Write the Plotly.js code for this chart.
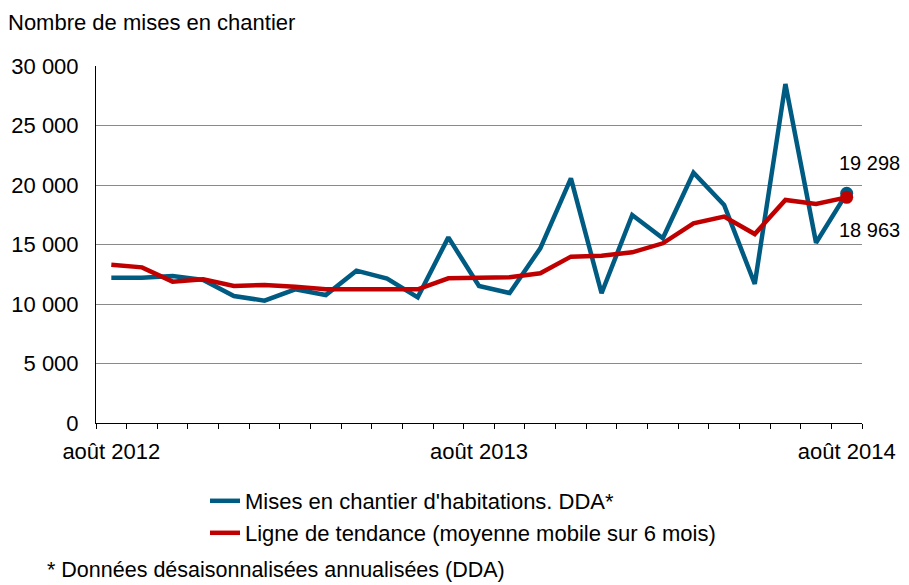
<!DOCTYPE html>
<html>
<head>
<meta charset="utf-8">
<script src="https://cdn.plot.ly/plotly-3.0.1.min.js"></script>
<style>html,body{margin:0;padding:0;background:#fff;}#chart{width:909px;height:585px;}</style>
</head>
<body>
<div id="chart"></div>
<script>
var months = ["août 2012","sept. 2012","oct. 2012","nov. 2012","déc. 2012","janv. 2013","févr. 2013","mars 2013","avr. 2013","mai 2013","juin 2013","juil. 2013",
              "août 2013","sept. 2013","oct. 2013","nov. 2013","déc. 2013","janv. 2014","févr. 2014","mars 2014","avr. 2014","mai 2014","juin 2014","juil. 2014","août 2014"];
var misesEnChantier = [12210,12210,12350,12020,10670,10280,11230,10750,12800,12130,10560,15600,
                       11510,10920,14680,20560,10900,17480,15520,21030,18320,11680,28490,15150,19298];
var tendance = [13300,13080,11880,12070,11510,11600,11460,11230,11230,11230,11230,12160,
                12240,12240,12580,13980,14060,14340,15100,16780,17340,15880,18740,18400,18963];
var tickLabels = ["août 2012","août 2013","août 2014"];
var yTicks = [0,5000,10000,15000,20000,25000,30000];

var blue = "#005b82", red = "#c00000";
var n = months.length;
function fmt(v){ return String(v).replace(/\B(?=(\d{3})+(?!\d))/g, " "); }
var tickText = months.map(function(m){ return tickLabels.indexOf(m) >= 0 ? m : ""; });

var font = {family: "Liberation Sans, Arial, sans-serif", size: 22, color: "#000"};
var labelFont = {family: "Liberation Sans, Arial, sans-serif", size: 20, color: "#000"};
var noteFont = {family: "Liberation Sans, Arial, sans-serif", size: 21.5, color: "#000"};

var traces = [
  {x: months, y: misesEnChantier, type: "scatter", mode: "lines", name: "Mises en chantier d'habitations. DDA*",
   line: {color: blue, width: 4.5}, legend: "legend"},
  {x: [months[n-1]], y: [misesEnChantier[n-1]], type: "scatter", mode: "markers", showlegend: false,
   marker: {color: blue, size: 13}},
  {x: months, y: tendance, type: "scatter", mode: "lines", name: "Ligne de tendance (moyenne mobile sur 6 mois)",
   line: {color: red, width: 4.5}, legend: "legend2"},
  {x: [months[n-1]], y: [tendance[n-1]], type: "scatter", mode: "markers", showlegend: false,
   marker: {color: red, size: 13}}
];

var plotW = 909 - 96 - 47, plotH = 585 - 66 - 162;

var layout = {
  width: 909, height: 585,
  margin: {l: 96, r: 47, t: 66, b: 162, autoexpand: false},
  paper_bgcolor: "#fff", plot_bgcolor: "#fff",
  font: font,
  showlegend: true,
  title: {text: "Nombre de mises en chantier", x: 8/909, xanchor: "left", xref: "container",
          y: 1 - 22/585, yanchor: "middle", yref: "container", font: font, automargin: false},
  xaxis: {type: "category", range: [-0.5, n - 0.5], tickmode: "array", tickvals: months, ticktext: tickText,
          tickson: "boundaries", ticks: "outside", ticklen: 5, tickcolor: "#000", tickwidth: 1,
          showline: true, linecolor: "#000", linewidth: 1, showgrid: false, zeroline: false,
          tickfont: font, tickangle: 0, automargin: false, ticklabelstandoff: 9},
  yaxis: {range: [0, 30000], tickmode: "array", tickvals: yTicks, ticktext: yTicks.map(fmt),
          showgrid: true, gridcolor: "#8a8a8a", gridwidth: 1, showline: true, linecolor: "#000", linewidth: 1,
          zeroline: false, ticks: "", ticklen: 0, tickfont: font, automargin: false, ticklabelstandoff: 12},
  legend: {x: 205/909, xref: "container", xanchor: "left", y: 1 - 480/585, yref: "container", yanchor: "top",
           font: font, bgcolor: "rgba(0,0,0,0)", itemwidth: 30},
  legend2: {x: 205/909, xref: "container", xanchor: "left", y: 1 - 512/585, yref: "container", yanchor: "top",
            font: font, bgcolor: "rgba(0,0,0,0)", itemwidth: 30},
  annotations: [
    {x: months[n-1], y: misesEnChantier[n-1], xref: "x", yref: "y", text: fmt(misesEnChantier[n-1]),
     showarrow: false, xanchor: "left", xshift: -10, yshift: 30, font: labelFont},
    {x: months[n-1], y: tendance[n-1], xref: "x", yref: "y", text: fmt(tendance[n-1]),
     showarrow: false, xanchor: "left", xshift: -10, yshift: -33, font: labelFont},
    {x: (45 - 96) / plotW, y: (423 - 570) / plotH, xref: "paper", yref: "paper",
     text: "* Données désaisonnalisées annualisées (DDA)",
     showarrow: false, xanchor: "left", yanchor: "middle", font: noteFont}
  ]
};

Plotly.newPlot("chart", traces, layout, {displayModeBar: false, staticPlot: true});
</script>
</body>
</html>
